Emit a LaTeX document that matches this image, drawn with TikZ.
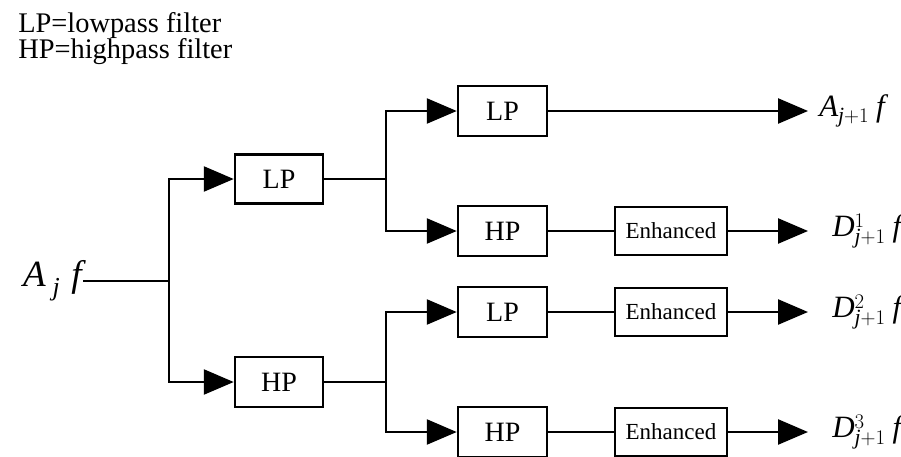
\documentclass[tikz,border=0pt]{standalone}
\usepackage{fontspec}
\setmainfont{Liberation Serif}
\usetikzlibrary{arrows.meta}
\begin{document}
\begin{tikzpicture}[x=1pt,y=-1pt,
  line width=2.5pt,
  filt/.style={draw,line width=2.5pt,minimum width=88pt,minimum height=49pt,inner sep=0pt,font=\fontsize{28}{32}\selectfont},
  enh/.style={draw,line width=2.5pt,minimum width=112pt,minimum height=48pt,inner sep=0pt,font=\fontsize{23}{26}\selectfont},
  arr/.style={-{Triangle[length=30pt,width=25pt]}},
  lbl/.style={anchor=west,inner sep=0pt,font=\fontsize{31}{36}\selectfont},
  legend/.style={anchor=base west,inner sep=0pt,font=\fontsize{28.4}{32}\selectfont}]
\useasboundingbox (0,0) rectangle (901,456);
% legend
\node[legend] (leg1) at (17,32) {LP=lowpass filter};
\node[legend] (leg2) at (17,58) {HP=highpass filter};
% input
\node[anchor=east,inner sep=0pt,font=\fontsize{37}{42}\selectfont] (in) at (83,281) {$\mathit{A}_{\;\mathit{j}}\;\,\mathit{f}$};
\coordinate (f0) at (169,281);
% level 1
\node[filt] (lp1) at (279,179) {LP};
\node[filt,minimum height=50pt] (hp1) at (279,382) {HP};
\coordinate (f1) at (386,179);
\coordinate (f2) at (386,382);
% level 2
\node[filt,minimum width=89pt,minimum height=50pt] (lp2a) at (502.5,111) {LP};
\node[filt,minimum width=89pt,minimum height=50pt] (hp2a) at (502.5,231) {HP};
\node[filt,minimum width=89pt,minimum height=50pt] (lp2b) at (502.5,312) {LP};
\node[filt,minimum width=89pt,minimum height=50pt] (hp2b) at (502.5,432) {HP};
\node[enh] (en1) at (671,231) {Enhanced};
\node[enh] (en2) at (671,312) {Enhanced};
\node[enh] (en3) at (671,432) {Enhanced};
% outputs
\coordinate (o0) at (808,111);
\coordinate (o1) at (808,231);
\coordinate (o2) at (808,312);
\coordinate (o3) at (808,432);
\node[lbl] (l0) at (818,111) {$\mathit{A}_{\mathit{j}+1}\;\mathit{f}$};
\node[lbl] (l1) at (831,231) {$\mathit{D}^{1}_{\mathit{j}+1}\;\mathit{f}$};
\node[lbl] (l2) at (831,312) {$\mathit{D}^{2}_{\mathit{j}+1}\;\mathit{f}$};
\node[lbl] (l3) at (831,432) {$\mathit{D}^{3}_{\mathit{j}+1}\;\mathit{f}$};
% connectors
\draw (in.east) -- (f0);
\draw[arr] (f0) |- (lp1.west);
\draw[arr] (f0) |- (hp1.west);
\draw (lp1.east) -- (f1);
\draw (hp1.east) -- (f2);
\draw[arr] (f1) |- (lp2a.west);
\draw[arr] (f1) |- (hp2a.west);
\draw[arr] (f2) |- (lp2b.west);
\draw[arr] (f2) |- (hp2b.west);
\draw[arr] (lp2a.east) -- (o0);
\draw (hp2a.east) -- (en1.west);
\draw (lp2b.east) -- (en2.west);
\draw (hp2b.east) -- (en3.west);
\draw[arr] (en1.east) -- (o1);
\draw[arr] (en2.east) -- (o2);
\draw[arr] (en3.east) -- (o3);
\end{tikzpicture}
\end{document}
